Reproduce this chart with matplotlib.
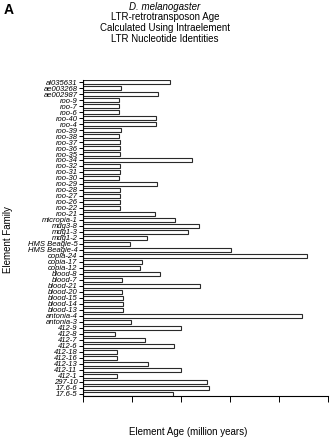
import matplotlib
matplotlib.use("Agg")
import matplotlib.pyplot as plt

plt.rcParams['font.family'] = ['Liberation Sans', 'DejaVu Sans']

families = ["al035631", "ae003268", "ae002987", "roo-9", "roo-7", "roo-6", "roo-40", "roo-4",
            "roo-39", "roo-38", "roo-37", "roo-36", "roo-35", "roo-34", "roo-32", "roo-31",
            "roo-30", "roo-29", "roo-28", "roo-27", "roo-26", "roo-22", "roo-21", "micropia-1",
            "mdg3-8", "mdg1-3", "mdg1-2", "HMS Beagle-5", "HMS Beagle-4", "copia-24", "copia-17",
            "copia-12", "blood-8", "blood-7", "blood-21", "blood-20", "blood-15", "blood-14",
            "blood-13", "antonia-4", "antonia-3", "412-9", "412-8", "412-7", "412-6", "412-18",
            "412-16", "412-13", "412-11", "412-1", "297-10", "17.6-6", "17.6-5"]

ages = [1.77, 0.76, 1.53, 0.73, 0.73, 0.73, 1.48, 1.48,
        0.76, 0.72, 0.75, 0.75, 0.75, 2.21, 0.75, 0.75,
        0.73, 1.50, 0.75, 0.75, 0.75, 0.75, 1.47, 1.88,
        2.36, 2.14, 1.31, 0.96, 3.02, 4.57, 1.19,
        1.16, 1.56, 0.79, 2.38, 0.79, 0.80, 0.82,
        0.80, 4.47, 0.97, 2.00, 0.64, 1.25, 1.86, 0.68,
        0.69, 1.32, 2.00, 0.69, 2.53, 2.56, 1.84]

xticks = [0, 1, 2, 3, 4, 5]

W, H = 331, 440
fig = plt.figure(figsize=(W / 100, H / 100), dpi=100)
left, right, top, bottom = 83.3, 328.3, 80, 395.5
ax = fig.add_axes([left / W, 1 - bottom / H, (right - left) / W, (bottom - top) / H])

ypos = list(range(len(families)))
ax.barh(ypos, ages, height=0.68, color='white', edgecolor='#2a2a2a', linewidth=0.8)

ax.set_xlim(0, 5)
ax.set_ylim(52.3, -0.35)
ax.set_xticks(xticks)
ax.set_xticklabels([])
ax.set_yticks(ypos)
ax.set_yticklabels(families, fontsize=5.5, style='italic')
ax.tick_params(axis='y', length=3, width=0.7, pad=1.2)
ax.tick_params(axis='x', length=4, width=0.7)
for s in ['top', 'right']:
    ax.spines[s].set_visible(False)
for s in ['left', 'bottom']:
    ax.spines[s].set_linewidth(0.8)

fig.text(8 / W, 1 - 240 / H, "Element Family", rotation=90, ha='center', va='center', fontsize=7)
fig.text(188 / W, 1 - 432 / H, "Element Age (million years)", ha='center', va='center', fontsize=7)

fig.text(165 / W, 1 - 7 / H, "D. melanogaster", ha='center', va='center', fontsize=7, style='italic')
fig.text(165 / W, 1 - 17.5 / H, "LTR-retrotransposon Age", ha='center', va='center', fontsize=7)
fig.text(165 / W, 1 - 28 / H, "Calculated Using Intraelement", ha='center', va='center', fontsize=7)
fig.text(165 / W, 1 - 38.5 / H, "LTR Nucleotide Identities", ha='center', va='center', fontsize=7)
fig.text(9 / W, 1 - 10 / H, "A", ha='center', va='center', fontsize=10, fontweight='bold')

fig.savefig("out.png", dpi=100)
